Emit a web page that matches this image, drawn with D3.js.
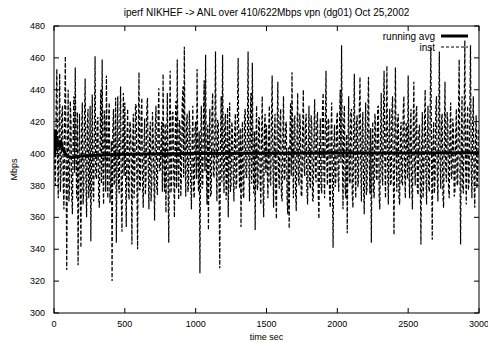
<!DOCTYPE html>
<html>
<head>
<meta charset="utf-8">
<script src="https://cdn.jsdelivr.net/npm/d3@7"></script>
<style>
  body { margin: 0; background: #fff; }
  svg text { font-family: "Liberation Sans", Arial, sans-serif; fill: #000; }
</style>
</head>
<body>
<div id="chart"></div>
<script>
// iperf throughput samples, one every 5 s
const sampleStep = 5;
const instValues = [
  // 0 - 495 s
  415,392, 380,428, 453,398, 372,411, 450,376, 388,425, 430,382, 365,419, 461,395, 327,402,
  440,370, 378,433, 420,374, 362,410, 436,388, 454,401, 372,426, 330,390, 425,379, 341,415,
  432,368, 376,422, 447,384, 360,418, 428,372, 382,430, 345,395, 437,377, 370,412, 461,386,
  384,420, 423,373, 366,405, 440,381, 459,392, 368,427, 418,376, 449,398, 372,421, 432,369,
  378,408, 320,414, 428,380, 392,435, 344,400, 436,383, 375,417, 442,371, 351,409, 438,386,
  // 500 - 995 s
  432,388, 354,410, 428,379, 371,420, 418,395, 343,406, 425,372, 384,431, 430,386, 340,413,
  451,377, 378,424, 435,381, 366,404, 422,374, 385,428, 435,392, 365,411, 420,370, 380,426,
  412,384, 358,417, 430,379, 374,423, 441,389, 390,406, 420,376, 450,398, 376,419, 363,402,
  438,383, 344,412, 452,375, 380,425, 426,388, 360,409, 433,378, 459,396, 371,421, 418,373,
  388,430, 442,385, 467,401, 373,418, 425,376, 380,427, 415,383, 365,408, 430,377, 372,416,
  // 1000 - 1495 s
  420,384, 453,397, 376,414, 325,403, 430,378, 380,424, 446,389, 462,392, 368,418, 352,407,
  428,373, 375,426, 438,386, 385,410, 464,394, 370,421, 420,379, 328,405, 436,382, 462,399,
  375,417, 425,371, 388,429, 360,404, 432,376, 380,420, 415,387, 370,412, 425,378, 382,427,
  460,393, 378,416, 354,402, 420,374, 372,425, 428,385, 385,411, 464,397, 370,420, 438,381,
  457,395, 375,414, 352,406, 430,377, 380,423, 422,384, 368,409, 436,379, 360,415, 425,388,
  // 1500 - 1995 s
  418,390, 372,412, 430,381, 380,422, 449,395, 366,408, 425,376, 359,414, 445,388, 378,420,
  428,374, 370,409, 436,383, 385,418, 420,372, 362,404, 353,411, 432,386, 451,398, 372,421,
  424,377, 364,410, 438,385, 380,425, 416,373, 374,415, 440,392, 386,419, 425,378, 368,406,
  430,382, 378,424, 418,371, 370,413, 434,387, 382,420, 426,376, 359,403, 422,380, 375,428,
  438,389, 372,417, 452,396, 380,422, 420,374, 366,410, 432,383, 341,405, 418,379, 384,421,
  // 2000 - 2495 s
  426,387, 376,415, 440,394, 468,400, 365,419, 430,378, 372,412, 350,403, 436,383, 381,426,
  428,375, 366,411, 450,390, 372,420, 424,379, 384,427, 448,393, 370,414, 426,381, 362,407,
  432,374, 378,423, 448,396, 375,416, 344,404, 420,377, 372,425, 418,385, 383,429, 430,373,
  365,410, 438,388, 380,421, 452,397, 372,418, 455,392, 368,412, 428,380, 382,426, 436,386,
  349,408, 454,399, 376,420, 425,372, 368,413, 420,382, 380,427, 436,390, 372,419, 418,384,
  // 2500 - 2995 s
  449,391, 372,418, 428,380, 365,409, 445,393, 380,424, 430,377, 374,414, 418,386, 343,405,
  426,372, 382,420, 440,389, 368,411, 430,379, 376,425, 467,398, 346,406, 420,375, 384,428,
  436,387, 370,413, 464,395, 378,421, 425,374, 366,409, 445,390, 382,426, 420,378, 372,415,
  432,384, 386,422, 415,373, 376,410, 428,381, 380,424, 459,396, 343,407, 436,379, 375,420,
  471,394, 368,412, 430,377, 382,426, 468,392, 372,417, 436,383, 366,408, 424,378, 385,415
];

// running average, read at selected times
const avgTimes  = [0, 5, 10, 15, 20, 25, 30, 40, 50, 60, 80, 100, 130, 160, 200, 300, 500, 1000, 1500, 2000, 2500, 3000];
const avgValues = [412, 398, 415, 402, 411, 404, 408, 405, 407, 403, 400, 398, 397.5, 398, 398.5, 399, 399.5, 400, 400.2, 400.3, 400.4, 400.5];

const xTicks = [0, 500, 1000, 1500, 2000, 2500, 3000];
const yTicks = [300, 320, 340, 360, 380, 400, 420, 440, 460, 480];

const titleText = 'iperf NIKHEF -> ANL over 410/622Mbps vpn (dg01) Oct 25,2002';

const width = 488;
const height = 343;
const margin = { top: 26, right: 9, bottom: 30, left: 54 };
const plotW = width - margin.left - margin.right;
const plotH = height - margin.top - margin.bottom;

const instData = instValues.map((v, i) => ({ t: i * sampleStep, v: v }));
const avgData = avgTimes.map((t, i) => ({ t: t, v: avgValues[i] }));

const x = d3.scaleLinear().domain([0, 3000]).range([0, plotW]);
const y = d3.scaleLinear().domain([300, 480]).range([plotH, 0]);

const svg = d3.select('#chart')
  .append('svg')
  .attr('width', width)
  .attr('height', height);

const g = svg.append('g')
  .attr('transform', `translate(${margin.left},${margin.top})`);

// clip the data to the plot box
g.append('clipPath')
  .attr('id', 'clip')
  .append('rect')
  .attr('width', plotW)
  .attr('height', plotH);

const line = d3.line()
  .x(d => x(d.t))
  .y(d => y(d.v));

g.append('path')
  .datum(instData)
  .attr('clip-path', 'url(#clip)')
  .attr('fill', 'none')
  .attr('stroke', '#000')
  .attr('stroke-width', 1.2)
  .attr('stroke-dasharray', '4,2')
  .attr('d', line);

g.append('path')
  .datum(avgData)
  .attr('clip-path', 'url(#clip)')
  .attr('fill', 'none')
  .attr('stroke', '#000')
  .attr('stroke-width', 3)
  .attr('d', line);

// axes: inward ticks, mirrored on the opposite side
const tickLen = 5;
const tickG = g.append('g');

xTicks.forEach(t => {
  tickG.append('line')
    .attr('x1', x(t)).attr('x2', x(t))
    .attr('y1', plotH).attr('y2', plotH - tickLen)
    .attr('stroke', '#000');
  tickG.append('line')
    .attr('x1', x(t)).attr('x2', x(t))
    .attr('y1', 0).attr('y2', tickLen)
    .attr('stroke', '#000');
  tickG.append('text')
    .attr('x', x(t))
    .attr('y', plotH + 14)
    .attr('text-anchor', 'middle')
    .attr('font-size', 9)
    .text(t);
});

yTicks.forEach(v => {
  tickG.append('line')
    .attr('x1', 0).attr('x2', tickLen)
    .attr('y1', y(v)).attr('y2', y(v))
    .attr('stroke', '#000');
  tickG.append('line')
    .attr('x1', plotW).attr('x2', plotW - tickLen)
    .attr('y1', y(v)).attr('y2', y(v))
    .attr('stroke', '#000');
  tickG.append('text')
    .attr('x', -9)
    .attr('y', y(v))
    .attr('dy', '0.35em')
    .attr('text-anchor', 'end')
    .attr('font-size', 9)
    .text(v);
});

g.append('rect')
  .attr('width', plotW)
  .attr('height', plotH)
  .attr('fill', 'none')
  .attr('stroke', '#000')
  .attr('stroke-width', 1);

// legend
const legend = g.append('g');
const legendItems = [
  { label: 'running avg', w: 3, dash: null },
  { label: 'inst', w: 1, dash: '3,2' }
];
legendItems.forEach((item, i) => {
  const ly = 10 + i * 11;
  legend.append('text')
    .attr('x', 381)
    .attr('y', ly)
    .attr('dy', '0.35em')
    .attr('text-anchor', 'end')
    .attr('font-size', 10)
    .text(item.label);
  legend.append('line')
    .attr('x1', 387).attr('x2', 414)
    .attr('y1', ly).attr('y2', ly)
    .attr('stroke', '#000')
    .attr('stroke-width', item.w)
    .attr('stroke-dasharray', item.dash);
});

// titles
svg.append('text')
  .attr('x', margin.left + plotW / 2)
  .attr('y', 16)
  .attr('text-anchor', 'middle')
  .attr('font-size', 10)
  .text(titleText);

svg.append('text')
  .attr('x', margin.left + plotW / 2)
  .attr('y', 340)
  .attr('text-anchor', 'middle')
  .attr('font-size', 9)
  .text('time sec');

svg.append('text')
  .attr('transform', `translate(17,${margin.top + plotH / 2}) rotate(-90)`)
  .attr('text-anchor', 'middle')
  .attr('font-size', 9)
  .text('Mbps');
</script>
</body>
</html>
